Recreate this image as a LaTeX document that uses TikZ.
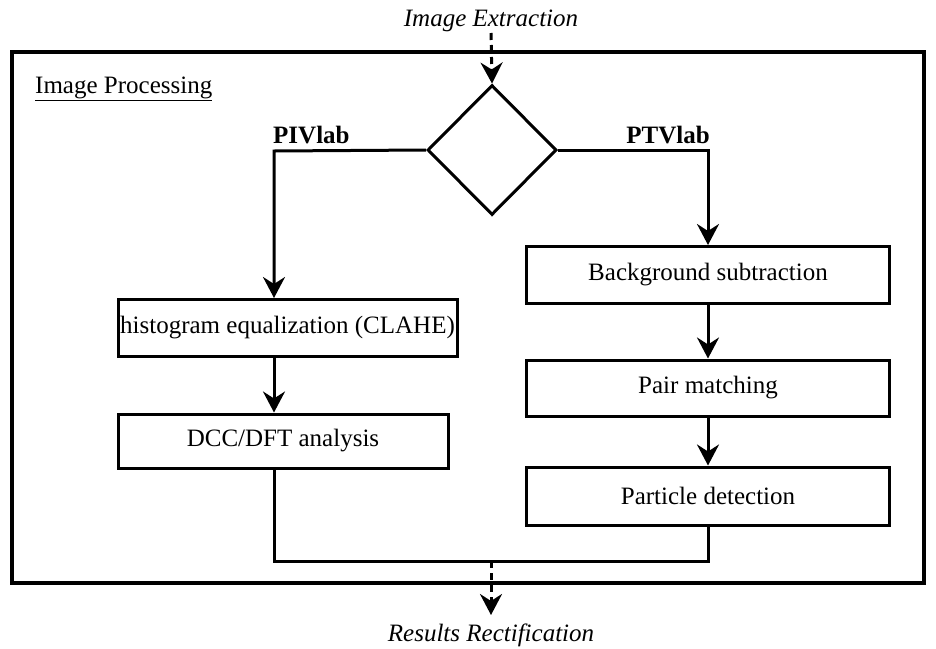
\documentclass[tikz,border=0pt]{standalone}
\usepackage{fontspec}
\setmainfont{Liberation Serif}
\usetikzlibrary{positioning}
\usetikzlibrary{shapes.geometric}
\usetikzlibrary{arrows.meta}
\tikzset{
	every node/.style = {font=\fontsize{25}{30}\selectfont},
	stepbox/.style = {draw, line width=3pt, minimum height=57pt, inner sep=2pt},
	flow/.style = {line width=3pt, -{Stealth[length=21pt, width=22pt, inset=7pt]}},
	dashflow/.style = {flow, dash pattern=on 7pt off 5pt}
}

\begin{document}
\begin{tikzpicture}[x=1pt, y=-1pt]
		\useasboundingbox (0,0) rectangle (936,648);
		% frame
		\draw[line width=4pt] (12,52) rectangle (924,583);
		\node[anchor=base west, inner sep=0pt] (title) at (35,93) {\underline{Image Processing}};
		
		% in and out
		\node[anchor=south, inner sep=1pt] (ext) at (491,33) {\textit{Image Extraction}};
		\node[anchor=north, inner sep=1pt] (res) at (491,623) {\textit{Results Rectification}};
		
		% decision
		\node[draw, diamond, line width=3pt, inner sep=0pt, minimum width=129pt, minimum height=130pt] (dia) at (492,150) {};
		
		% PIVlab branch
		\node[stepbox, minimum width=339pt] (hist) at (287.5,328) {histogram equalization (CLAHE)};
		\node[stepbox, minimum width=330pt, minimum height=54pt] (dcc) at (283,441) {DCC/DFT analysis};
		
		% PTVlab branch
		\node[stepbox, minimum width=363pt] (bg) at (708,275) {Background subtraction};
		\node[stepbox, minimum width=363pt, minimum height=56pt] (pair) at (708,388) {Pair matching};
		\node[stepbox, minimum width=363pt, minimum height=58pt] (part) at (708,496) {Particle detection};
		
		% labels
		\node[anchor=base west, inner sep=0pt] (piv) at (273,143) {\textbf{PIVlab}};
		\node[anchor=base east, inner sep=0pt] (ptv) at (710,143) {\textbf{PTVlab}};
		
		% connectors
		\coordinate (pivx) at (274,151);
		\coordinate (join) at (491,561);
		\draw[dashflow] (ext.south) -- (dia.north);
		\draw[flow] (dia.west) -- (pivx) -- (pivx |- hist.north);
		\draw[flow] (pivx |- hist.south) -- (pivx |- dcc.north);
		\draw[flow] (dia.east) -| (bg.north);
		\draw[flow] (bg.south) -- (pair.north);
		\draw[flow] (pair.south) -- (part.north);
		\draw[line width=3pt] (pivx |- dcc.south) |- (join) -| (part.south);
		\draw[dashflow, shorten >=8pt] (join) -- (res.north);
	\end{tikzpicture}
\end{document}
